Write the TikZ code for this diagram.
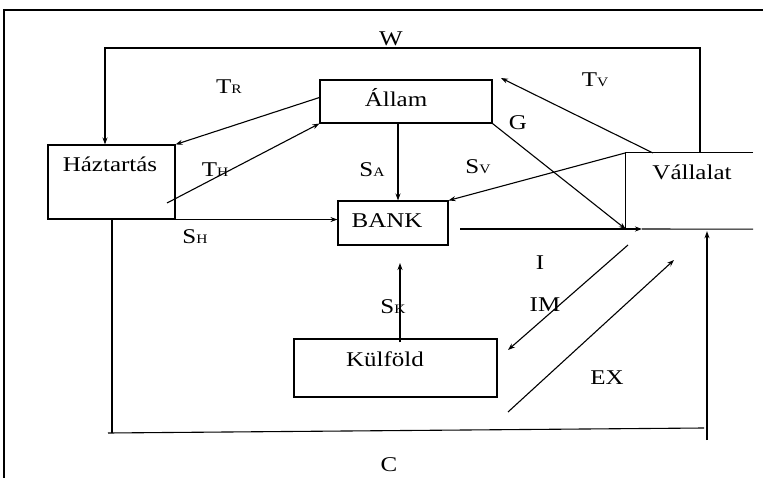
\documentclass[tikz,border=0pt]{standalone}
\usepackage{fontspec}
\setmainfont{Liberation Serif}[FakeStretch=1.19]
\usetikzlibrary{arrows.meta}
\newcommand{\smc}[1]{{\fontsize{13}{13}\selectfont #1}}
\begin{document}
\begin{tikzpicture}[x=1pt,y=-1pt,
  box/.style={draw, line width=1.1pt, inner sep=0pt},
  openbox/.style={draw=none, inner sep=0pt},
  txt/.style={font=\fontsize{21}{25}\selectfont, inner sep=0pt, anchor=base},
  ln/.style={line width=1.1pt},
  arr/.style={line width=1.1pt, -{Stealth[length=7pt,width=5pt]}},
  frame/.style={line width=2.4pt}]
\useasboundingbox (0,0) rectangle (763,478);
\fill[white] (0,0) rectangle (763,478);
% frame of the scan
\draw[frame] (4,478) -- (4,10) -- (763,10);

% boxes
\node[box, minimum width=127pt, minimum height=74pt] (haz) at (111.5,182) {};
\node[box, minimum width=172pt, minimum height=43pt] (allam) at (406,101.5) {};
\node[box, minimum width=110pt, minimum height=44pt] (bank) at (393,223) {};
\node[openbox, minimum width=127pt, minimum height=76pt] (vall) at (689.5,191) {};
\node[box, minimum width=203pt, minimum height=58pt] (kul) at (395.5,368) {};
\draw[ln] (vall.north east) -- (vall.north west) -- (vall.south west);

% box texts
\node[txt] (hazt) at (110,172) {Háztartás};
\node[txt] (allamt) at (396,107) {Állam};
\node[txt] (bankt) at (387,228) {BANK};
\node[txt] (vallt) at (692,180) {Vállalat};
\node[txt] (kult) at (385,366) {Külföld};

% helper coordinates
\coordinate (wr) at (700,48);
\coordinate (wl) at (105,48);
\coordinate (tvs) at (653,153);
\coordinate (tvt) at (501,78);
\coordinate (ths) at (167,203);
\coordinate (sa) at (398,0);
\coordinate (istart) at (460,229);
\coordinate (iarr) at (642,229);
\coordinate (ims) at (628,245);
\coordinate (imt) at (508,350);
\coordinate (exs) at (508,412);
\coordinate (ext) at (674,260);
\coordinate (sk) at (400,263);
\coordinate (cl) at (112,433);
\coordinate (cr) at (707,428);

% W
\draw[arr] (wr |- vall.north) -- (wr) -- (wl) -- (wl |- haz.north);
% Tv
\draw[arr] (tvs) -- (tvt);
% TR
\draw[arr] ([yshift=4pt]allam.west) -- (haz.north east);
% TH
\draw[arr] (ths) -- (allam.south west);
% SA
\draw[arr] (sa |- allam.south) -- (sa |- bank.north);
% G
\draw[arr] (allam.south east) -- (vall.south west);
% Sv
\draw[arr] (vall.north west) -- (bank.north east);
% SH
\draw[arr] (haz.south east) -- (haz.south east -| bank.west);
% I
\draw[arr] (istart) -- (iarr);
\draw[ln] (iarr) -- (vall.south east);
% IM, EX
\draw[arr] (ims) -- (imt);
\draw[arr] (exs) -- (ext);
% Sk
\draw[arr] ([yshift=-4pt]sk |- kul.north) -- (sk);
% C
\draw[ln] (cl |- haz.south) -- (cl);
\draw[ln] ([xshift=-4pt]cl) -- ([xshift=-3pt]cr);
\draw[arr] ([yshift=-12pt]cr) -- ([yshift=-2pt]cr |- vall.south);

% labels
\node[txt] (lw) at (391,46) {W};
\node[txt] (ltr) at (229,94) {T\smc{R}};
\node[txt] (ltv) at (595,87) {T\smc{V}};
\node[txt] (lg) at (518,130) {G};
\node[txt] (lsa) at (372,177) {S\smc{A}};
\node[txt] (lsv) at (478,174) {S\smc{V}};
\node[txt] (lth) at (215,177) {T\smc{H}};
\node[txt] (lsh) at (195,244) {S\smc{H}};
\node[txt] (li) at (540,270) {I};
\node[txt] (lim) at (545,312) {IM};
\node[txt] (lex) at (607,384) {EX};
\node[txt] (lsk) at (393,314) {S\smc{K}};
\node[txt] (lc) at (389,471) {C};
\end{tikzpicture}
\end{document}
